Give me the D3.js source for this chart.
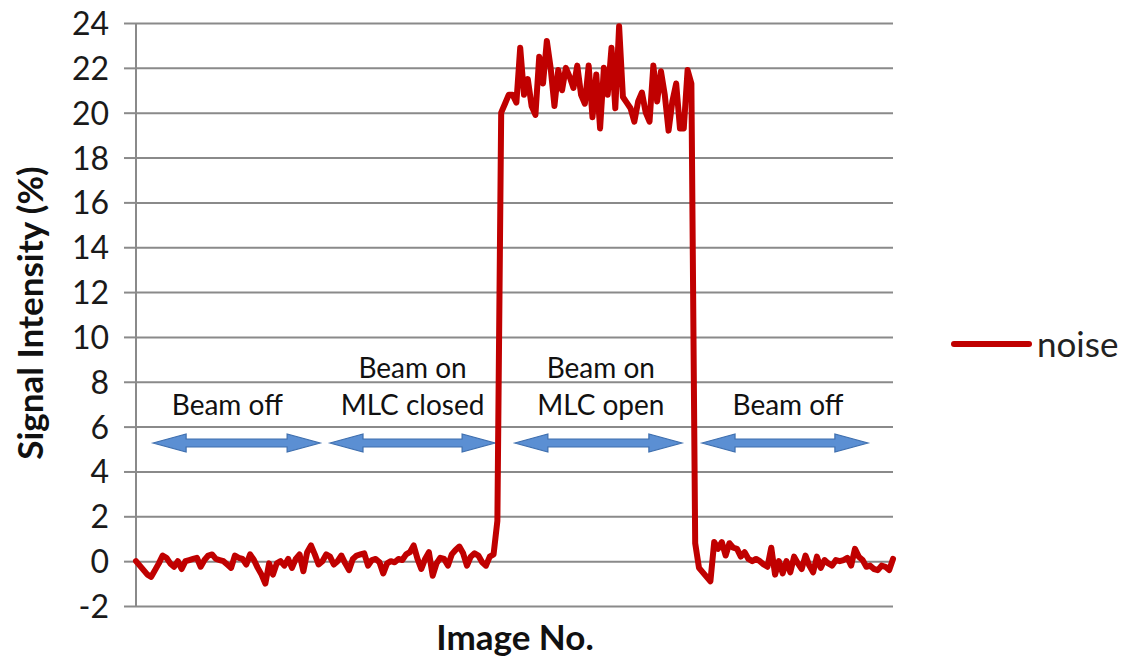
<!DOCTYPE html>
<html>
<head>
<meta charset="utf-8">
<script src="https://cdn.jsdelivr.net/npm/d3@7"></script>
<style>
  html, body { margin: 0; padding: 0; background: #fff; }
  svg { display: block; }
  text { font-family: Lato, "Open Sans", sans-serif; }
</style>
</head>
<body>
<svg id="chart" width="1127" height="657"></svg>
<script>
// ---- data ----
const noise = [
  0, -0.2, -0.4, -0.6, -0.7, -0.4, -0.1, 0.25, 0.15, -0.1,
  -0.25, 0, -0.35, 0, 0.05, 0.1, 0.15, -0.25, 0.05, 0.25,
  0.3, 0.1, 0.05, 0, -0.15, -0.3, 0.25, 0.15, 0.1, -0.15,
  0.3, 0.05, -0.3, -0.6, -1.0, -0.1, -0.6, -0.1, 0, -0.2,
  0.1, -0.3, 0.1, 0.3, -0.45, 0.4, 0.7, 0.3, -0.15, 0,
  0.3, 0.2, -0.15, 0, 0.25, -0.1, -0.4, 0.1, 0.25, 0.3,
  0.35, -0.2, 0.05, 0.1, -0.05, -0.55, -0.1, 0, -0.05, 0.1,
  0.05, 0.3, 0.4, 0.7, 0.1, -0.35, 0.1, 0.4, -0.65, -0.1,
  0.15, 0.1, -0.2, 0.3, 0.5, 0.65, 0.35, -0.2, 0.2, 0.35,
  0.25, -0.05, -0.2, 0.2, 0.3, 1.8, 20.0, 20.4, 20.8, 20.8,
  20.45, 22.9, 20.8, 21.5, 20.3, 19.9, 22.5, 21.3, 23.2, 22.0,
  20.3, 21.9, 21.0, 22.0, 21.6, 21.1, 22.1, 20.8, 20.4, 22.1,
  19.8, 21.7, 19.3, 22.0, 20.8, 22.9, 20.2, 23.85, 20.7, 20.45,
  20.2, 19.6, 20.5, 20.9, 20.0, 19.6, 22.1, 20.5, 21.85, 20.8,
  19.2, 20.5, 21.3, 19.3, 19.3, 21.9, 21.3, 0.8, -0.3, -0.5,
  -0.7, -0.9, 0.85, 0.55, 0.85, 0.25, 0.8, 0.6, 0.55, 0.2,
  0.4, 0.1, 0, 0.1, 0, -0.15, -0.25, 0.6, -0.6, 0,
  -0.55, 0, -0.5, 0.2, -0.1, -0.35, 0.25, -0.2, -0.5, 0.2,
  -0.3, 0.05, -0.1, -0.2, 0.05, 0, 0.05, 0.15, -0.2, 0.55,
  0.2, 0.05, -0.25, -0.2, -0.35, -0.4, -0.2, -0.25, -0.4, 0.1
];
const yTicks = [-2, 0, 2, 4, 6, 8, 10, 12, 14, 16, 18, 20, 22, 24];
const seriesName = "noise";
const yTitle = "Signal Intensity (%)";
const xTitle = "Image No.";
// annotation arrows: start/end image index, y value
const arrowStart = [4.5, 51, 99.6, 148.8];
const arrowEnd   = [48.4, 94.4, 143.5, 192.4];
const arrowY = 5.27;
// annotation labels (lines per phase) and their centre (image index)
const phaseLines = [["Beam off"], ["Beam on", "MLC closed"], ["Beam on", "MLC open"], ["Beam off"]];
const phaseCenter = [24.0, 72.7, 122.2, 171.4];

// ---- layout ----
const svg = d3.select("#chart");
const plotL = 136, plotR = 893, plotT = 23, plotB = 606;

const x = d3.scaleLinear().domain([0, noise.length - 1]).range([plotL, plotR]);
const y = d3.scaleLinear().domain([-2, 24]).range([plotB, plotT]);

const grid = "#8a8a8a";

// gridlines (with left tick extension)
const yAxis = d3.axisLeft(y).tickValues(yTicks).tickFormat(d => String(d))
  .tickSize(-(plotR - plotL)).tickSizeOuter(0).tickPadding(27);
const gAxis = svg.append("g").attr("transform", `translate(${plotL},0)`).call(yAxis);
gAxis.select(".domain").remove();
gAxis.selectAll(".tick line").attr("stroke", grid).attr("stroke-width", 2);
gAxis.selectAll(".tick").append("line")
  .attr("x1", -12).attr("x2", 0).attr("stroke", grid).attr("stroke-width", 2);
gAxis.selectAll(".tick text")
  .attr("fill", "#1a1a1a")
  .style("font-size", "32px")
  .style("font-family", "Lato, sans-serif")
  .attr("dy", "0.36em");

// vertical axis line
svg.append("line")
  .attr("x1", plotL).attr("x2", plotL).attr("y1", y(24)).attr("y2", y(-2))
  .attr("stroke", grid).attr("stroke-width", 2);

// annotation labels
const lineGap = 37;
phaseLines.forEach((lines, i) => {
  const cx = x(phaseCenter[i]);
  const baseY = y(6.5);
  lines.forEach((t, j) => {
    svg.append("text")
      .attr("x", cx)
      .attr("y", baseY - (lines.length - 1 - j) * lineGap)
      .attr("text-anchor", "middle")
      .attr("fill", "#111")
      .style("font-size", "28px")
      .text(t);
  });
});

// double-headed block arrows
const shaftH = 8, headH = 18, headL = 33;
arrowStart.forEach((s, i) => {
  const x0 = x(s), x1 = x(arrowEnd[i]), cy = y(arrowY);
  const pts = [
    [x0, cy],
    [x0 + headL, cy - headH / 2],
    [x0 + headL, cy - shaftH / 2],
    [x1 - headL, cy - shaftH / 2],
    [x1 - headL, cy - headH / 2],
    [x1, cy],
    [x1 - headL, cy + headH / 2],
    [x1 - headL, cy + shaftH / 2],
    [x0 + headL, cy + shaftH / 2],
    [x0 + headL, cy + headH / 2]
  ];
  svg.append("path")
    .attr("d", "M" + pts.map(p => p.join(",")).join("L") + "Z")
    .attr("fill", "#5b8fd3")
    .attr("stroke", "#3f6fae")
    .attr("stroke-width", 1.2);
});

// data line
const line = d3.line().x((d, i) => x(i)).y(d => y(d));
svg.append("path")
  .datum(noise)
  .attr("d", line)
  .attr("fill", "none")
  .attr("stroke", "#c00000")
  .attr("stroke-width", 6)
  .attr("stroke-linejoin", "round")
  .attr("stroke-linecap", "round");

// axis titles
svg.append("text")
  .attr("transform", `translate(43,${(463 + 163) / 2}) rotate(-90)`)
  .attr("text-anchor", "middle")
  .attr("fill", "#111")
  .style("font-size", "35px")
  .style("font-weight", "bold")
  .text(yTitle);

svg.append("text")
  .attr("x", 515).attr("y", 650)
  .attr("text-anchor", "middle")
  .attr("fill", "#111")
  .style("font-size", "35px")
  .style("font-weight", "bold")
  .text(xTitle);

// legend
svg.append("line")
  .attr("x1", 954).attr("x2", 1029).attr("y1", 344).attr("y2", 344)
  .attr("stroke", "#c00000").attr("stroke-width", 6).attr("stroke-linecap", "round");
svg.append("text")
  .attr("x", 1037).attr("y", 357)
  .attr("fill", "#222")
  .style("font-size", "35px")
  .text(seriesName);
</script>
</body>
</html>
